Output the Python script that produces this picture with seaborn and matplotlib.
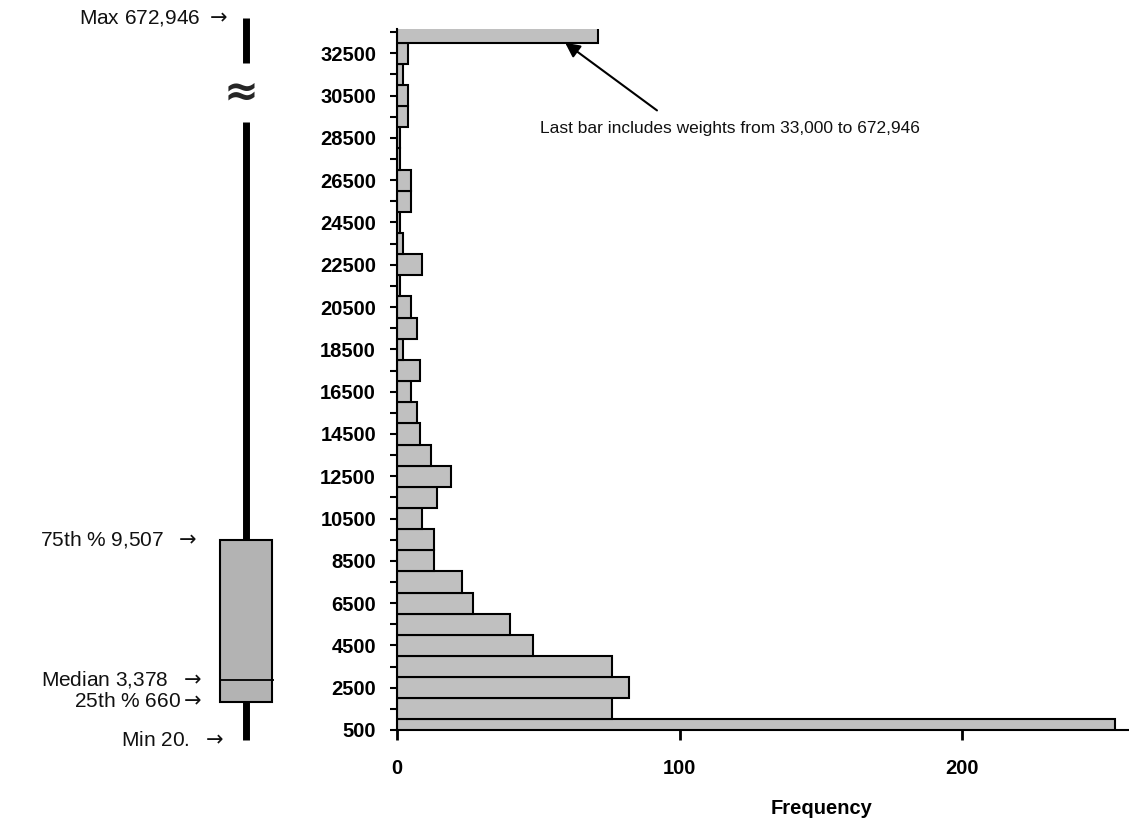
import numpy as np
import pandas as pd
import matplotlib
matplotlib.use("Agg")
import matplotlib.pyplot as plt
import seaborn as sns

sns.set_style("ticks")
plt.rcParams['font.family'] = ['Liberation Sans', 'DejaVu Sans']

# 히스토그램 데이터 (구간 중앙값, 빈도) - 마지막 구간은 33,000 ~ 672,946 전부 포함
bin_centers = list(range(500, 34000, 1000))
counts = [254, 76, 82, 76, 48, 40, 27, 23, 13, 13,
          9, 14, 19, 12, 8, 7, 5, 8, 2, 7,
          5, 1, 9, 2, 1, 5, 5, 1, 1, 4,
          4, 2, 4, 71]

major_ticks = list(range(500, 33000, 2000))
minor_ticks = list(range(1500, 34000, 2000))
x_ticks = [0, 100, 200]

# 상자그림 요약 통계
arrow = r'$\rightarrow$'
box_labels = ["Max 672,946 " + arrow, "75th % 9,507  " + arrow, "Median 3,378  " + arrow,
              "25th % 660" + arrow, "Min 20.  " + arrow]
stat_min, stat_q3 = 20, 9507
# 상자그림은 개략도: 중앙값/25%는 눈금에 맞지 않게 그려져 있음
drawn_q1, drawn_med = 1824, 2865
drawn_max, break_lo, break_hi = 34170, 29250, 32040

df = pd.DataFrame({'weight': bin_centers, 'freq': counts})

fig = plt.figure(figsize=(11.29, 8.24), dpi=100)
ax = fig.add_axes([0.3516, 0.1141, 0.6484, 0.8507])
axl = fig.add_axes([0.0, 0.1141, 0.3516, 0.8507], sharey=ax)

sns.barplot(data=df, x='freq', y='weight', orient='y', native_scale=True,
            width=1, color='#c0c0c0', edgecolor='black', linewidth=1.5,
            saturation=1, errorbar=None, ax=ax)

ax.set_ylim(500, 33650)
ax.set_xlim(0, 259)
ax.set_yticks(major_ticks)
ax.set_yticks(minor_ticks, minor=True)
ax.set_xticks(x_ticks)
ax.tick_params(axis='y', which='both', length=5, width=1.5, pad=10,
               labelsize=14.5, direction='out', color='black', labelcolor='black')
ax.tick_params(axis='x', length=7, width=2, pad=14, labelsize=14.5,
               color='black', labelcolor='black')
for lab in ax.get_xticklabels() + ax.get_yticklabels():
    lab.set_fontweight('bold')
ax.set_ylabel('')
ax.set_xlabel('Frequency', fontsize=14.5, fontweight='bold', color='black')
ax.xaxis.set_label_coords(0.58, -0.098)
sns.despine(ax=ax)
for s in ['left', 'bottom']:
    ax.spines[s].set_linewidth(1.5)
    ax.spines[s].set_color('black')

ax.annotate('', xy=(59.5, 33000), xytext=(92, 29800),
            arrowprops=dict(arrowstyle='-|>', color='black', lw=1.5,
                            mutation_scale=22, shrinkA=0, shrinkB=0))
ax.text(50.6, 28950, 'Last bar includes weights from 33,000 to 672,946',
        fontsize=12.5, va='center', ha='left', color='#111111')

# 왼쪽 상자그림 (개략도)
axl.set_xlim(0, 1)
axl.axis('off')
bx, bw = 0.62, 0.131
axl.vlines(bx, stat_min, drawn_q1, color='black', lw=5, clip_on=False, zorder=1)
axl.vlines(bx, stat_q3, break_lo, color='black', lw=5, clip_on=False, zorder=1)
axl.vlines(bx, break_hi, drawn_max, color='black', lw=5, clip_on=False, zorder=1)
axl.bar(bx, stat_q3 - drawn_q1, bottom=drawn_q1, width=bw, color='#b3b3b3',
        edgecolor='black', linewidth=1.5, clip_on=False, zorder=2)
axl.hlines(drawn_med, bx - bw / 2, bx + bw / 2 + 0.006, color='black', lw=1.3,
           clip_on=False, zorder=3)
axl.text(0.607, (break_lo + break_hi) / 2, '\u2248', fontsize=30, ha='center',
         va='center', family=['DejaVu Sans'], fontweight='bold', clip_on=False)

label_y = [drawn_max, stat_q3, drawn_med, drawn_q1, stat_min]
label_x = [0.574, 0.496, 0.509, 0.509, 0.564]
for t, xx, yy in zip(box_labels, label_x, label_y):
    axl.text(xx, yy, t, fontsize=15, ha='right', va='center', color='#111111',
             clip_on=False)

plt.savefig('out.png', dpi=100)
